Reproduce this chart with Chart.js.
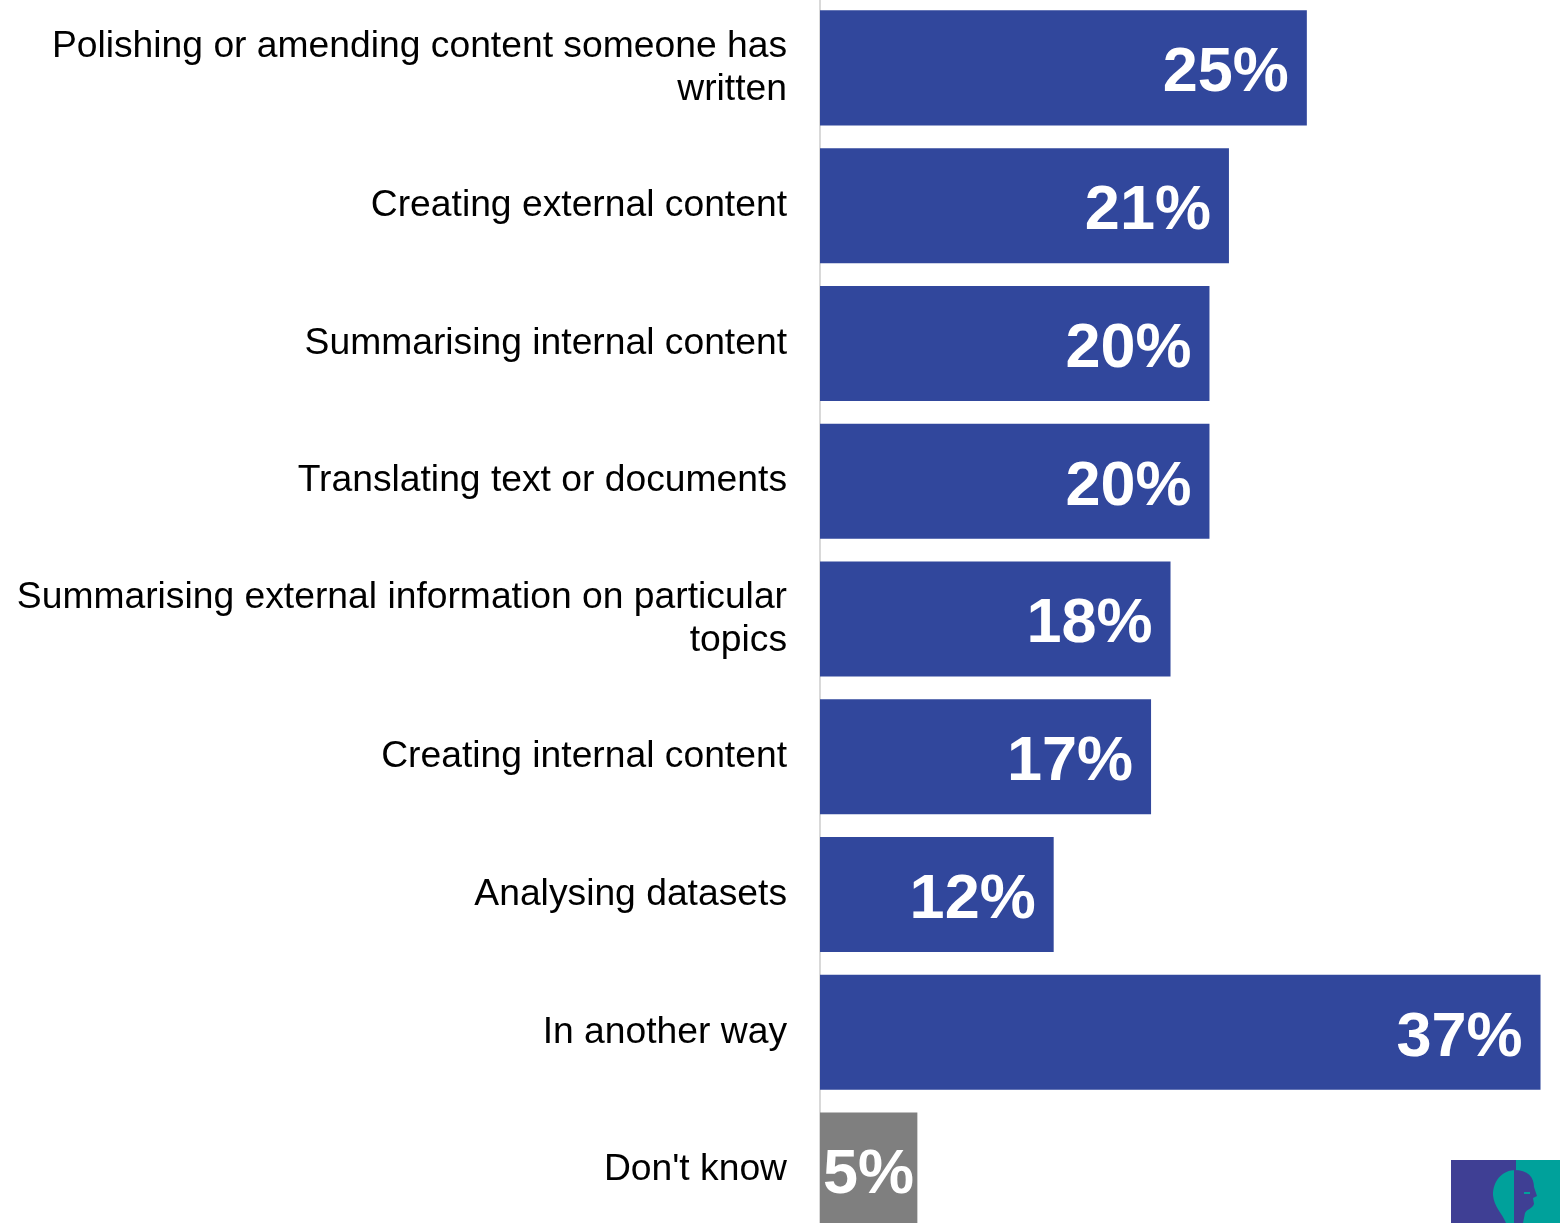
<!DOCTYPE html>
<html>
<head>
<meta charset="utf-8">
<script src="https://cdn.jsdelivr.net/npm/chart.js@4/dist/chart.umd.min.js"></script>
<style>
  html, body { margin: 0; padding: 0; background: #ffffff; overflow: hidden; }
  #wrap { position: absolute; left: 0; top: -1px; width: 1560px; height: 1240px; }
</style>
</head>
<body>
<div id="wrap"><canvas id="c"></canvas></div>
<script>
const categories = [
  ["Polishing or amending content someone has", "written"],
  "Creating external content",
  "Summarising internal content",
  "Translating text or documents",
  ["Summarising external information on particular", "topics"],
  "Creating internal content",
  "Analysing datasets",
  "In another way",
  "Don't know"
];
const values = [25, 21, 20, 20, 18, 17, 12, 37, 5];
const valueLabels = ["25%", "21%", "20%", "20%", "18%", "17%", "12%", "37%", "5%"];
const barColors = ["#31479c", "#31479c", "#31479c", "#31479c", "#31479c", "#31479c", "#31479c", "#31479c", "#7f7f7f"];

const valueLabelPlugin = {
  id: 'valueLabels',
  afterDatasetsDraw(chart) {
    const ctx = chart.ctx;
    const meta = chart.getDatasetMeta(0);
    ctx.save();
    ctx.font = 'bold 63px "Liberation Sans", Arial, sans-serif';
    ctx.fillStyle = '#ffffff';
    ctx.textBaseline = 'middle';
    ctx.textAlign = 'left';
    meta.data.forEach((bar, i) => {
      const txt = valueLabels[i];
      const w = ctx.measureText(txt).width;
      let x = bar.x - 18 - w;
      if (x < bar.base + 3) x = bar.base + 3;
      ctx.fillText(txt, x, bar.y + 6);
    });
    ctx.restore();
  }
};

const logoPlugin = {
  id: 'logo',
  afterDraw(chart) {
    const ctx = chart.ctx;
    ctx.save();
    const top = 1161, left = 1451, mid = 1516, right = 1560, bottom = 1245;
    ctx.fillStyle = '#3f3f94';
    ctx.fillRect(left, top, mid - left, bottom - top);
    ctx.fillStyle = '#00a19b';
    ctx.fillRect(mid, top, right - mid, bottom - top);
    // back of head (teal in blue area)
    ctx.beginPath();
    ctx.moveTo(mid, 1171);
    ctx.bezierCurveTo(1502, 1171, 1493, 1182, 1493, 1196);
    ctx.bezierCurveTo(1494, 1208, 1502, 1214, 1506, 1224);
    ctx.lineTo(mid, 1224);
    ctx.closePath();
    ctx.fill();
    // face (blue in teal area)
    ctx.fillStyle = '#3f3f94';
    ctx.beginPath();
    ctx.moveTo(mid - 2, 1171);
    ctx.bezierCurveTo(1528, 1171, 1534, 1178, 1534, 1188);
    ctx.lineTo(1537, 1197);
    ctx.lineTo(1533, 1199);
    ctx.lineTo(1534, 1205);
    ctx.bezierCurveTo(1532, 1210, 1527, 1210, 1525, 1214);
    ctx.lineTo(1523, 1224);
    ctx.lineTo(mid - 2, 1224);
    ctx.closePath();
    ctx.fill();
    ctx.fillStyle = '#00a19b';
    ctx.fillRect(1524, 1193, 6, 2);
    ctx.restore();
  }
};

new Chart(document.getElementById('c'), {
  type: 'bar',
  data: {
    labels: categories,
    datasets: [{
      data: values,
      backgroundColor: barColors,
      borderWidth: 0,
      categoryPercentage: 0.835,
      barPercentage: 1.0
    }]
  },
  options: {
    indexAxis: 'y',
    responsive: true,
    maintainAspectRatio: false,
    animation: false,
    layout: { padding: 0 },
    plugins: {
      legend: { display: false },
      tooltip: { enabled: false },
      title: { display: false }
    },
    scales: {
      x: {
        display: false,
        min: 0,
        max: 38
      },
      y: {
        type: 'category',
        afterFit(scale) {
          scale.width = 820;
          scale.paddingTop = 0;
          scale.paddingBottom = 0;
        },
        grid: { display: false, drawTicks: false },
        border: { display: true, color: '#d9d9d9', width: 2 },
        ticks: {
          color: '#000000',
          padding: 33,
          autoSkip: false,
          font: { family: '"Liberation Sans", Arial, sans-serif', size: 37.25, lineHeight: 1.16 }
        }
      }
    }
  },
  plugins: [valueLabelPlugin, logoPlugin]
});
</script>
</body>
</html>
